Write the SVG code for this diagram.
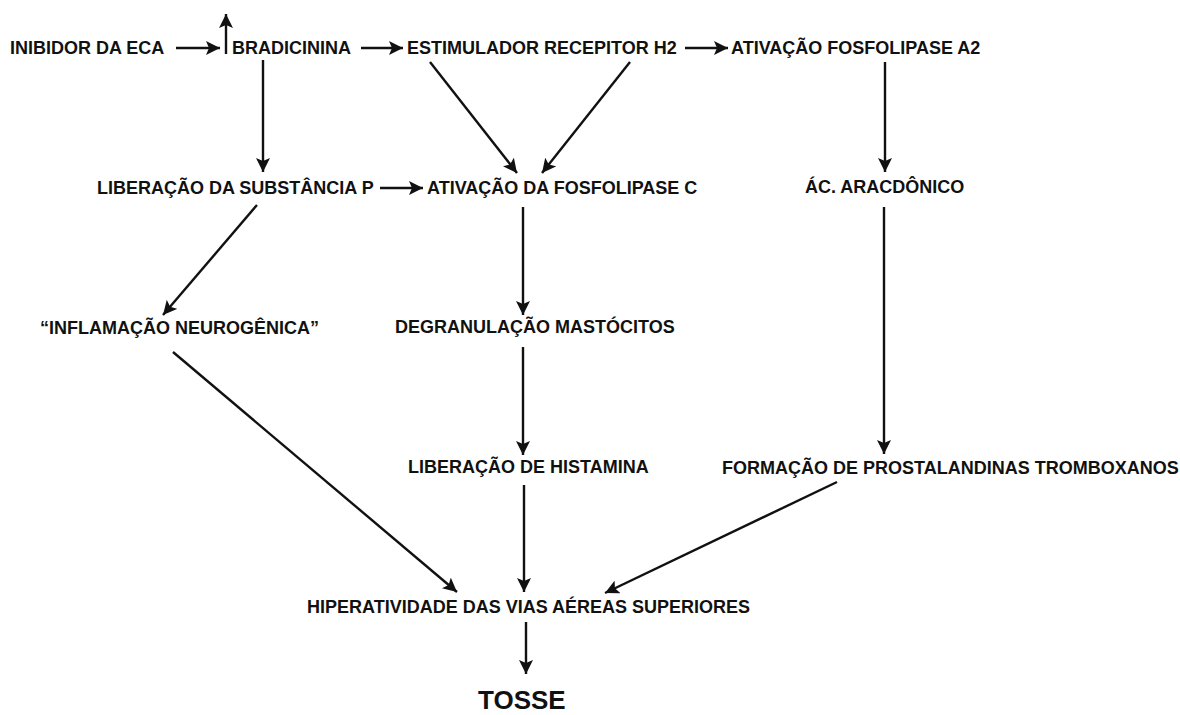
<svg xmlns="http://www.w3.org/2000/svg" width="1180" height="715" viewBox="0 0 1180 715">
<defs>
<style>
text{font-family:"Liberation Sans",Arial,sans-serif;font-weight:bold;font-size:18px;fill:#111;}
.big{font-size:26px;}
.c line{stroke:#111;stroke-width:2.4;marker-end:url(#ah);}
</style>
<marker id="ah" markerUnits="userSpaceOnUse" markerWidth="16" markerHeight="14" refX="14" refY="7" orient="auto">
<path d="M0,0 L14,7 L0,14 L3,7 Z" fill="#111"/>
</marker>
</defs>
<rect width="1180" height="715" fill="#fff"/>
<g id="connectors" class="c">
<line x1="176" y1="48" x2="220" y2="48"/>
<line x1="226" y1="54" x2="226" y2="14"/>
<line x1="361" y1="48" x2="403" y2="48"/>
<line x1="685" y1="48" x2="728" y2="48"/>
<line x1="263" y1="60" x2="263" y2="172"/>
<line x1="430" y1="62" x2="517" y2="173"/>
<line x1="630" y1="62" x2="542" y2="173"/>
<line x1="885" y1="62" x2="885" y2="172"/>
<line x1="380" y1="188" x2="423" y2="188"/>
<line x1="257" y1="205" x2="163" y2="315"/>
<line x1="523" y1="207" x2="523" y2="315"/>
<line x1="884" y1="207" x2="884" y2="454"/>
<line x1="523" y1="347" x2="523" y2="455"/>
<line x1="173" y1="352" x2="457" y2="592"/>
<line x1="524" y1="485" x2="524" y2="592"/>
<line x1="837" y1="482" x2="605" y2="593"/>
<line x1="526" y1="622" x2="526" y2="674"/>
</g>
<g id="n-inibidor"><text x="10" y="54">INIBIDOR DA ECA</text></g>
<g id="n-bradicinina"><text x="232" y="54">BRADICININA</text></g>
<g id="n-estimulador"><text x="407" y="54">ESTIMULADOR RECEPITOR H2</text></g>
<g id="n-fosfolipase-a2"><text x="731" y="54">ATIVAÇÃO FOSFOLIPASE A2</text></g>
<g id="n-substancia-p"><text x="97" y="194">LIBERAÇÃO DA SUBSTÂNCIA P</text></g>
<g id="n-fosfolipase-c"><text x="427" y="194">ATIVAÇÃO DA FOSFOLIPASE C</text></g>
<g id="n-aracdonico"><text x="805" y="193">ÁC. ARACDÔNICO</text></g>
<g id="n-inflamacao"><text x="40" y="334">“INFLAMAÇÃO NEUROGÊNICA”</text></g>
<g id="n-degranulacao"><text x="395" y="333">DEGRANULAÇÃO MASTÓCITOS</text></g>
<g id="n-histamina"><text x="408" y="473">LIBERAÇÃO DE HISTAMINA</text></g>
<g id="n-prostalandinas"><text x="722" y="474">FORMAÇÃO DE PROSTALANDINAS TROMBOXANOS</text></g>
<g id="n-hiperatividade"><text x="307" y="613">HIPERATIVIDADE DAS VIAS AÉREAS SUPERIORES</text></g>
<g id="n-tosse"><text class="big" x="478" y="709">TOSSE</text></g>
</svg>
